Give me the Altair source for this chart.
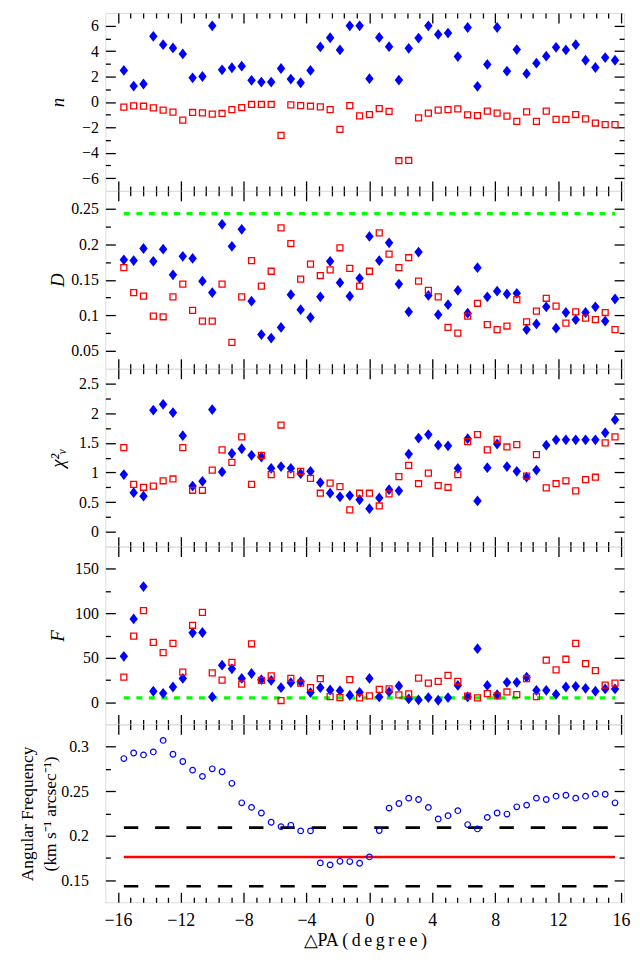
import altair as alt
import pandas as pd

# ---------------- data ----------------
angle = [-15.625, -15.0, -14.375, -13.75, -13.125, -12.5, -11.875, -11.25, -10.625, -10.0,
         -9.375, -8.75, -8.125, -7.5, -6.875, -6.25, -5.625, -5.0, -4.375, -3.75,
         -3.125, -2.5, -1.875, -1.25, -0.625, 0.0, 0.625, 1.25, 1.875, 2.5,
         3.125, 3.75, 4.375, 5.0, 5.625, 6.25, 6.875, 7.5, 8.125, 8.75,
         9.375, 10.0, 10.625, 11.25, 11.875, 12.5, 13.125, 13.75, 14.375, 15.0, 15.625]

n_diamond = [2.48, 1.25, 1.41, 5.16, 4.51, 4.25, 3.78, 1.90, 2.00, 5.99, 2.53, 2.69, 2.81,
             1.70, 1.56, 1.56, 2.63, 1.80, 1.51, 2.48, 4.33, 5.05, 4.09, 5.99, 5.99,
             1.83, 5.08, 4.35, 1.72, 4.22, 5.03, 5.99, 5.31, 5.42, 3.57, 5.86, 1.23, 2.95,
             5.86, 2.42, 4.12, 2.22, 3.05, 3.60, 4.30, 4.09, 4.51, 3.28, 2.71, 3.49, 3.28]
n_square = [-0.41, -0.31, -0.34, -0.47, -0.65, -0.80, -1.43, -0.83, -0.86, -0.96, -0.91, -0.60,
            -0.44, -0.20, -0.20, -0.20, -2.63, -0.23, -0.29, -0.34, -0.39, -0.60, -2.16, -0.29,
            -1.10, -0.99, -0.52, -0.75, -4.63, -4.61, -1.25, -0.88, -0.65, -0.60, -0.55, -1.01,
            -1.07, -0.73, -0.88, -1.12, -1.53, -0.78, -1.53, -0.73, -1.38, -1.38, -0.99, -1.33,
            -1.66, -1.79, -1.79]

d_diamond = [0.178, 0.177, 0.194, 0.176, 0.193, 0.157, 0.183, 0.180, 0.148, 0.132, 0.228, 0.197,
             0.221, 0.120, 0.073, 0.068, 0.083, 0.129, 0.108, 0.097, 0.126, 0.176, 0.146, 0.127,
             0.152, 0.211, 0.177, 0.202, 0.144, 0.105, 0.189, 0.128, 0.101, 0.115, 0.135, 0.103,
             0.167, 0.126, 0.134, 0.130, 0.131, 0.080, 0.088, 0.112, 0.082, 0.104, 0.094, 0.104,
             0.112, 0.092, 0.123]
d_square = [0.167, 0.132, 0.127, 0.099, 0.098, 0.126, 0.144, 0.107, 0.092, 0.092, 0.144, 0.062,
            0.126, 0.177, 0.141, 0.162, 0.223, 0.201, 0.151, 0.172, 0.156, 0.164, 0.195, 0.166,
            0.141, 0.162, 0.216, 0.186, 0.167, 0.181, 0.148, 0.135, 0.126, 0.083, 0.075, 0.099,
            0.117, 0.087, 0.080, 0.085, 0.122, 0.091, 0.106, 0.124, 0.113, 0.089, 0.105, 0.096,
            0.094, 0.104, 0.080]

chi_diamond = [0.965, 0.66, 0.60, 2.05, 2.15, 2.01, 1.62, 0.77, 0.85, 2.06, 1.01, 1.32, 1.40,
               1.29, 1.26, 1.07, 1.10, 1.07, 0.98, 1.02, 0.83, 0.65, 0.59, 0.61, 0.54,
               0.39, 0.57, 0.71, 0.69, 1.31, 1.58, 1.64, 1.46, 1.45, 1.07, 1.57, 0.52, 1.08,
               1.48, 1.10, 1.02, 0.92, 1.04, 1.46, 1.55, 1.55, 1.55, 1.55, 1.55, 1.67, 1.89]
chi_square = [1.42, 0.80, 0.75, 0.77, 0.86, 0.89, 1.42, 0.70, 0.70, 1.04, 1.38, 1.17, 1.60,
              0.80, 1.29, 0.965, 1.80, 0.965, 1.02, 0.90, 0.65, 0.82, 0.76, 0.37, 0.65,
              0.65, 0.435, 0.64, 0.93, 1.12, 0.81, 0.99, 0.78, 0.75, 0.965, 1.52, 1.64, 1.38,
              1.56, 1.43, 1.47, 0.94, 1.30, 0.74, 0.81, 0.86, 0.69, 0.88, 0.92, 1.50, 1.60]

f_diamond = [51.6, 93.6, 130.0, 12.3, 10.0, 17.1, 26.7, 78.0, 78.4, 5.9, 41.6, 37.5, 26.7,
             32.3, 25.3, 24.5, 16.3, 21.9, 23.0, 10.8, 16.3, 13.7, 13.0, 7.8, 11.1,
             26.7, 5.9, 11.5, 18.2, 3.7, 2.6, 5.2, 2.2, 5.2, 18.9, 5.9, 60.2, 18.9,
             8.5, 22.3, 22.3, 28.2, 13.4, 13.4, 8.9, 17.1, 17.8, 15.6, 12.3, 14.9, 14.9]
f_square = [28.2, 74.3, 102.9, 67.2, 55.7, 66.1, 33.8, 86.5, 101.0, 33.0, 24.9, 44.9, 20.4,
            65.7, 24.5, 29.7, 1.9, 26.7, 21.5, 16.3, 26.4, 6.3, 5.2, 25.3, 4.8,
            7.1, 14.5, 14.9, 8.2, 9.3, 27.1, 21.5, 23.4, 30.1, 23.4, 6.7, 4.8, 9.7,
            7.1, 11.5, 8.5, 26.4, 6.3, 47.2, 36.4, 48.3, 66.1, 43.4, 35.6, 19.3, 21.5]

freq_circle = [0.2866, 0.2929, 0.2907, 0.2941, 0.3070, 0.2915, 0.2833, 0.2736, 0.2666, 0.2751,
               0.2718, 0.2588, 0.2369, 0.2317, 0.2254, 0.2150, 0.2101, 0.2116, 0.2053, 0.2053,
               0.1693, 0.1671, 0.1711, 0.1708, 0.1689, 0.1760, 0.2057, 0.2309, 0.2361, 0.2421,
               0.2406, 0.2317, 0.2187, 0.2224, 0.2280, 0.2124, 0.2075, 0.2205, 0.2254, 0.2242,
               0.2324, 0.2343, 0.2421, 0.2406, 0.2443, 0.2454, 0.2421, 0.2443, 0.2469, 0.2465,
               0.2369]

d_limit = [0.243]
f_limit = [4.8]
freq_mean = [0.176]
freq_bounds = [0.209, 0.143]
line_start = -15.625
line_end = 15.625

x_major = [-16, -12, -8, -4, 0, 4, 8, 12, 16]
x_minor = [-15.2, -14.4, -13.6, -12.8, -11.2, -10.4, -9.6, -8.8, -7.2, -6.4, -5.6, -4.8,
           -3.2, -2.4, -1.6, -0.8, 0.8, 1.6, 2.4, 3.2, 4.8, 5.6, 6.4, 7.2, 8.8, 9.6, 10.4,
           11.2, 12.8, 13.6, 14.4, 15.2]

# ---------------- styling ----------------
FONT = "Liberation Serif"
W, H = 522, 179
XSCALE = alt.Scale(domain=[-16.8, 16.2], nice=False, zero=False)
DIAMOND = "M0,-1L0.78,0L0,1L-0.78,0Z"
TS = "\u2009"


def ax(orient, values, size, **kw):
    base = dict(orient=orient, values=values, tickSize=size, offset=-size, domain=False,
                grid=False, ticks=True, tickColor="black", tickWidth=1.3, labels=False,
                title=None, minExtent=0)
    base.update(kw)
    return alt.Axis(**base)


def left_kw(title, pad, italic=True, title_x=-58, size=19, line_height=None):
    kw = dict(labels=True, labelFont=FONT, labelFontSize=16, labelColor="black",
              labelPadding=pad, format="~r", labelFlush=False, title=title,
              titleFont=FONT, titleFontSize=size, titleFontWeight="normal",
              titleFontStyle="italic" if italic else "normal", titleColor="black",
              titleAngle=270, titleAlign="center", titleBaseline="middle",
              titleX=title_x, titleY=H / 2)
    if line_height:
        kw["titleLineHeight"] = line_height
    return kw


X_LABEL_KW = dict(labels=True, labelFont=FONT, labelFontSize=18, labelColor="black",
                  labelPadding=9, labelFlush=False, labelOverlap=False,
                  title="\u25b3PA " + TS.join("(degree)"), titleFont=FONT,
                  titleFontSize=18, titleFontWeight="normal", titleColor="black",
                  titlePadding=2)


def build(layers, ydom, ymaj, ymin, lkw, show_x):
    yscale = alt.Scale(domain=ydom, nice=False, zero=False)
    xaxes = [
        ax("bottom", x_major, 10, **(X_LABEL_KW if show_x else {})),
        ax("bottom", x_minor, 5),
        ax("top", x_major, 10),
        ax("top", x_minor, 5),
    ]
    yaxes = [
        ax("left", ymaj, 10, **lkw),
        ax("left", ymin, 5),
        ax("right", ymaj, 10),
        ax("right", ymin, 5),
    ]
    charts = []
    for chart, k, xf, yf, x2f in layers:
        enc = dict(x=alt.X(xf, type="quantitative", scale=XSCALE, axis=xaxes[k]),
                   y=alt.Y(yf, type="quantitative", scale=yscale, axis=yaxes[k]))
        if x2f:
            enc["x2"] = alt.X2(x2f)
        charts.append(chart.encode(**enc))
    return alt.layer(*charts).resolve_axis(x="independent", y="independent").properties(
        width=W, height=H)


def scatter_panel(diam, sq, ydom, ymaj, ymin, title, limit=None):
    df = pd.DataFrame({"x": angle, "diamond": diam, "square": sq})
    blue = alt.Chart(df).mark_point(shape=DIAMOND, filled=True, color="#0000ff", size=118,
                                    opacity=1)
    red = alt.Chart(df).mark_point(shape="square", filled=False, color="#ff0000", size=36,
                                   strokeWidth=1.3, opacity=1)
    hidden_a = alt.Chart(df).mark_point(opacity=0)
    hidden_b = alt.Chart(df).mark_point(opacity=0)
    layers = []
    if limit is not None:
        ldf = pd.DataFrame({"x0": [line_start], "x1": [line_end], "y": limit})
        green = alt.Chart(ldf).mark_rule(color="#00ff00", strokeWidth=3.3, strokeDash=[6, 6.6])
        layers.append((green, 2, "x0", "y", "x1"))
    else:
        layers.append((hidden_a, 2, "x", "diamond", None))
    layers += [
        (blue, 0, "x", "diamond", None),
        (red, 1, "x", "square", None),
        (hidden_b, 3, "x", "diamond", None),
    ]
    return build(layers, ydom, ymaj, ymin, left_kw(title, 7), False)


p1 = scatter_panel(n_diamond, n_square, [-7, 7], [-6, -4, -2, 0, 2, 4, 6],
                   [-5, -3, -1, 1, 3, 5], "n")
p2 = scatter_panel(d_diamond, d_square, [0.025, 0.275], [0.05, 0.1, 0.15, 0.2, 0.25],
                   [0.075, 0.125, 0.175, 0.225], "D", limit=d_limit)
p3 = scatter_panel(chi_diamond, chi_square, [-0.25, 2.75], [0, 0.5, 1, 1.5, 2, 2.5],
                   [0.25, 0.75, 1.25, 1.75, 2.25], "\u03c7\u00b2\u1d65")
p4 = scatter_panel(f_diamond, f_square, [-25, 175], [0, 50, 100, 150], [25, 75, 125], "F",
                   limit=f_limit)

fdf = pd.DataFrame({"x": angle, "freq": freq_circle})
bdf = pd.DataFrame({"x0": [line_start] * len(freq_bounds), "x1": [line_end] * len(freq_bounds),
                    "y": freq_bounds})
rdf = pd.DataFrame({"x0": [line_start], "x1": [line_end], "y": freq_mean})
black = alt.Chart(bdf).mark_rule(color="black", strokeWidth=2.6, strokeDash=[14.5, 17])
redl = alt.Chart(rdf).mark_rule(color="#ff0000", strokeWidth=2.4)
circles = alt.Chart(fdf).mark_point(shape="circle", filled=False, color="#0000ff", size=32,
                                    strokeWidth=1.2, opacity=1)
hidden5 = alt.Chart(fdf).mark_point(opacity=0)
p5 = build([
    (black, 2, "x0", "y", "x1"),
    (redl, 3, "x0", "y", "x1"),
    (circles, 0, "x", "freq", None),
    (hidden5, 1, "x", "freq", None),
], [0.125, 0.325], [0.15, 0.2, 0.25, 0.3], [0.175, 0.225, 0.275],
    left_kw(["Angular Frequency", "(km s\u207b\u00b9 arcsec\u207b\u00b9)"], 17, italic=False,
            title_x=-88.5, size=17.5, line_height=23), True)

chart = alt.vconcat(p1, p2, p3, p4, p5, spacing=0, bounds="flush").configure_view(
    stroke="black", strokeWidth=1.6
).configure_axis(
    labelFont=FONT, titleFont=FONT
).configure(
    font=FONT
).properties(
    padding={"left": 10, "top": 0, "right": 1, "bottom": 0}, background="white"
)

chart.save("out.html", embed_options={"renderer": "svg", "actions": False})
